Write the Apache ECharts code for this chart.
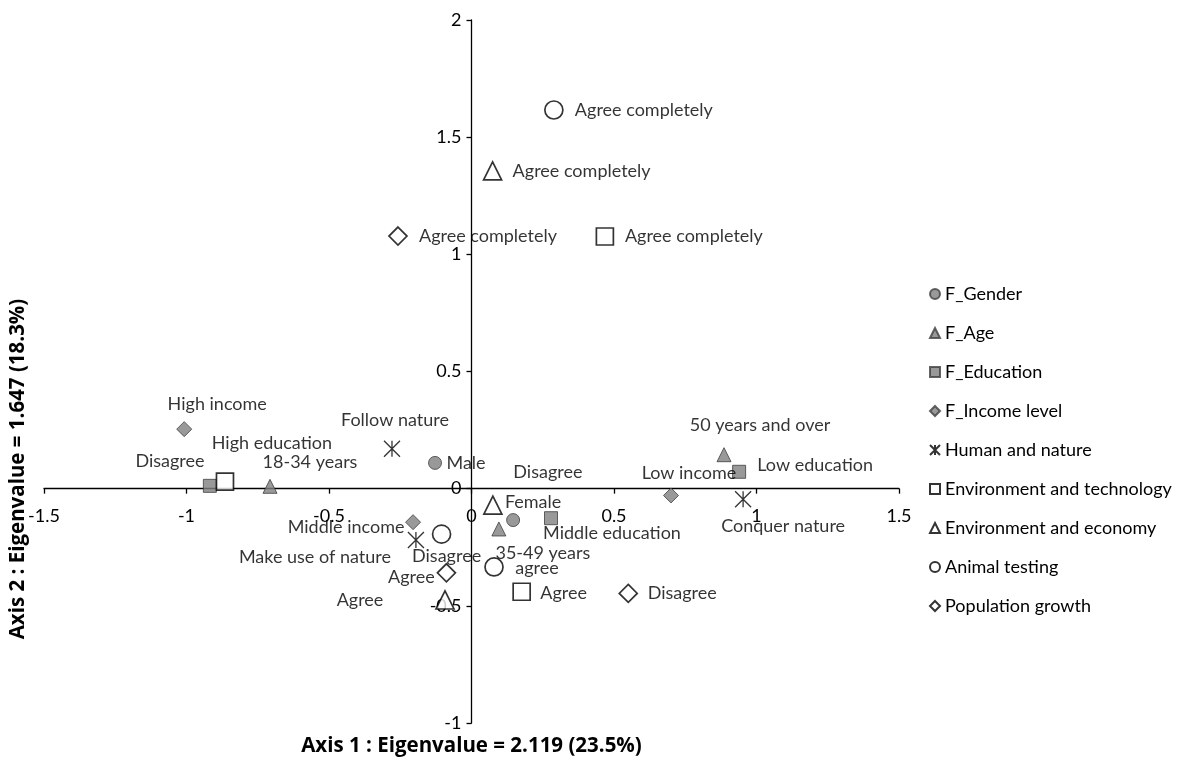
<!DOCTYPE html>
<html>
<head>
<meta charset="utf-8">
<script src="https://cdn.jsdelivr.net/npm/echarts@6/dist/echarts.min.js"></script>
<style>
  html, body { margin: 0; padding: 0; background: #fff; }
  #chart { width: 1198px; height: 763px; }
</style>
</head>
<body>
<div id="chart"></div>
<script>
// Axis ranges and titles
const xRange = [-1.5, 1.5];
const yRange = [-1, 2];
const tickStep = 0.5;
const xTitle = 'Axis 1 : Eigenvalue = 2.119 (23.5%)';
const yTitle = 'Axis 2 : Eigenvalue = 1.647 (18.3%)';

// Category coordinates on the two axes: [axis 1, axis 2, label]
const gender = [[-0.128, 0.110, 'Male'], [0.146, -0.134, 'Female']];
const age = [[-0.707, 0.010, '18-34 years'], [0.096, -0.172, '35-49 years'], [0.886, 0.145, '50 years and over']];
const education = [[-0.918, 0.012, 'High education'], [0.279, -0.126, 'Middle education'], [0.939, 0.072, 'Low education']];
const income = [[-1.008, 0.254, 'High income'], [-0.205, -0.143, 'Middle income'], [0.700, -0.029, 'Low income']];
const humanNature = [[-0.279, 0.170, 'Follow nature'], [-0.195, -0.219, 'Make use of nature'], [0.953, -0.045, 'Conquer nature']];
const envTechnology = [[0.468, 1.076, 'Agree completely'], [0.176, -0.440, 'Agree'], [-0.865, 0.030, 'Disagree']];
const envEconomy = [[0.074, 1.356, 'Agree completely'], [-0.093, -0.475, 'Agree'], [0.075, -0.070, 'Disagree']];
const animalTesting = [[0.289, 1.616, 'Agree completely'], [0.079, -0.334, 'agree'], [-0.105, -0.194, 'Disagree']];
const populationGrowth = [[-0.258, 1.078, 'Agree completely'], [-0.088, -0.359, 'Agree'], [0.550, -0.447, 'Disagree']];

// Label placement (pixel shift of each label centre from its marker)
const labelShift = {
  gender: [[31, 0], [20, -18]],
  age: [[40, -24], [44, 24], [36, -30]],
  education: [[62, -43], [61, 15], [76, -7]],
  income: [[33, -25], [-67, 5], [18, -22]],
  humanNature: [[3, -29], [-101, 17], [40, 27]],
  envTechnology: [[89, 0], [42, 1], [-55, -20]],
  envEconomy: [[89, 0], [-85, 0], [55, -33]],
  animalTesting: [[90, 0], [43, 1], [5, 22]],
  populationGrowth: [[90, 0], [-35, 4], [54, 0]]
};

const FONT = 'Lato';
const TITLE_FONT = '"Open Sans"';
const TEXT = '#000000';
const grayStyle = { color: '#808080', borderColor: '#3f3f3f', borderWidth: 1 };
const openStyle = { color: '#ffffff', borderColor: '#000000', borderWidth: 1.7 };
const starStyle = { color: 'rgba(0,0,0,0)', borderColor: '#000000', borderWidth: 1.3 };
const STAR = 'path://M0,0L10,10M10,0L0,10M5,0L5,10';

function makeSeries(name, points, shifts, symbol, size, style) {
  return {
    name: name,
    type: 'scatter',
    symbol: symbol,
    symbolSize: size,
    symbolKeepAspect: true,
    itemStyle: style,
    emphasis: { disabled: true },
    label: {
      show: true,
      position: 'inside',
      align: 'center',
      verticalAlign: 'middle',
      fontFamily: FONT,
      fontSize: 18,
      color: TEXT,
      formatter: p => p.name
    },
    data: points.map((p, i) => ({
      value: [p[0], p[1]],
      name: p[2],
      label: { offset: shifts[i] }
    }))
  };
}

const series = [
  makeSeries('F_Gender', gender, labelShift.gender, 'circle', 13, grayStyle),
  makeSeries('F_Age', age, labelShift.age, 'triangle', 14, grayStyle),
  makeSeries('F_Education', education, labelShift.education, 'rect', 13, grayStyle),
  makeSeries('F_Income level', income, labelShift.income, 'diamond', 15, grayStyle),
  makeSeries('Human and nature', humanNature, labelShift.humanNature, STAR, 16, starStyle),
  makeSeries('Environment and technology', envTechnology, labelShift.envTechnology, 'rect', 17, openStyle),
  makeSeries('Environment and economy', envEconomy, labelShift.envEconomy, 'triangle', 18, openStyle),
  makeSeries('Animal testing', animalTesting, labelShift.animalTesting, 'circle', 18, openStyle),
  makeSeries('Population growth', populationGrowth, labelShift.populationGrowth, 'diamond', 18, openStyle)
];

// Plot box; both axes are drawn through the origin
const W = 1198, H = 763;
const grid = { left: 44, right: 299, top: 20, bottom: 40 };
const plotW = W - grid.left - grid.right;
const plotH = H - grid.top - grid.bottom;
const xAxisShift = -plotH * (0 - yRange[0]) / (yRange[1] - yRange[0]);
const yAxisShift = -plotW * (0 - xRange[0]) / (xRange[1] - xRange[0]);
const originX = grid.left - yAxisShift;

const axisCommon = {
  type: 'value',
  interval: tickStep,
  splitLine: { show: false },
  axisLine: { show: true, onZero: false, lineStyle: { color: '#000', width: 1.3 } },
  axisTick: { show: true, inside: false, length: 5, lineStyle: { color: '#000', width: 1.3 } },
  axisLabel: { fontFamily: FONT, fontSize: 18, color: TEXT }
};

const chart = echarts.init(document.getElementById('chart'), null, { renderer: 'canvas' });
chart.setOption({
  animation: false,
  backgroundColor: '#ffffff',
  grid: Object.assign({ containLabel: false }, grid),
  xAxis: Object.assign({}, axisCommon, {
    min: xRange[0], max: xRange[1],
    position: 'bottom',
    offset: xAxisShift,
    axisLabel: Object.assign({}, axisCommon.axisLabel, { margin: 19 })
  }),
  yAxis: Object.assign({}, axisCommon, {
    min: yRange[0], max: yRange[1],
    position: 'left',
    offset: yAxisShift,
    axisLabel: Object.assign({}, axisCommon.axisLabel, { margin: 10 })
  }),
  legend: {
    orient: 'vertical',
    left: 924,
    top: 280,
    itemWidth: 10,
    itemHeight: 10,
    itemGap: 21,
    textStyle: { fontFamily: FONT, fontSize: 18, color: TEXT, lineHeight: 18 },
    data: series.map(s => s.name)
  },
  graphic: [
    {
      type: 'text', x: originX, y: 746,
      style: { text: xTitle, font: 'bold 20.5px ' + TITLE_FONT, fill: TEXT, textAlign: 'center', textVerticalAlign: 'middle' }
    },
    {
      type: 'text', x: 18, y: 469, rotation: Math.PI / 2,
      style: { text: yTitle, font: 'bold 20.5px ' + TITLE_FONT, fill: TEXT, textAlign: 'center', textVerticalAlign: 'middle' }
    }
  ],
  series: series
});
</script>
</body>
</html>
